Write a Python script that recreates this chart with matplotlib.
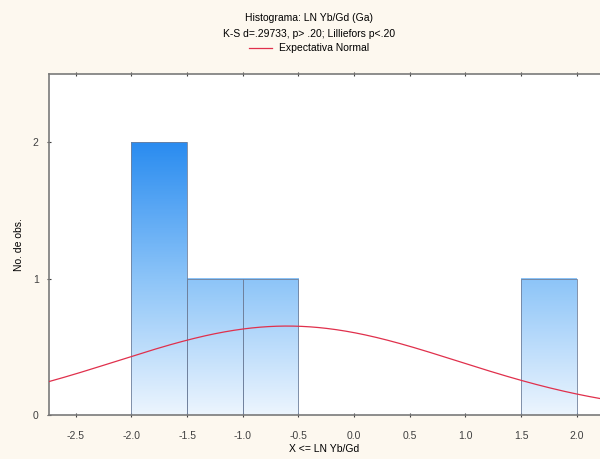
import numpy as np
import matplotlib
matplotlib.use("Agg")
import matplotlib.pyplot as plt
from matplotlib.colors import LinearSegmentedColormap

# histogram bins (left edges) and counts
bin_left = [-2.0, -1.5, -1.0, 1.5]
bin_count = [2, 1, 1, 1]
bin_width = 0.5

# expected normal curve: sample mean / sd as estimated from the curve
n_obs = 5
mean_x = -0.6
sd_x = 1.53

xticks = [-2.5, -2.0, -1.5, -1.0, -0.5, 0.0, 0.5, 1.0, 1.5, 2.0]
yticks = [0, 1, 2]

plt.rcParams['font.family'] = ['Liberation Sans', 'DejaVu Sans']

fig = plt.figure(figsize=(6.0, 4.59), dpi=100, facecolor='#fdf8ef')
ax = fig.add_axes([0.0817, 0.0959, 0.9183, 0.743])
ax.set_facecolor('white')

xmin, xmax = -2.74, 2.21

cmap = LinearSegmentedColormap.from_list('bars', ['#ecf5fe', '#8cc4f8', '#2a8cf0'])
for left, cnt in zip(bin_left, bin_count):
    grad = np.linspace(0, cnt, 200).reshape(-1, 1)
    ax.imshow(grad, cmap=cmap, vmin=0, vmax=2, origin='lower', aspect='auto',
              extent=[left, left + bin_width, 0, cnt], zorder=1)
ax.bar(bin_left, bin_count, width=bin_width, align='edge', facecolor='none',
       edgecolor='#6f809c', linewidth=0.6, zorder=2)

xs = np.linspace(xmin, xmax, 400)
ys = n_obs * bin_width * np.exp(-0.5 * ((xs - mean_x) / sd_x) ** 2) / (sd_x * np.sqrt(2 * np.pi))
line, = ax.plot(xs, ys, color='#e0304c', linewidth=0.9, zorder=3)
ax.set_xlim(xmin, xmax)
ax.set_ylim(0, 2.5)

ax.set_xticks(xticks)
ax.set_xticklabels([f"{v:.1f}" for v in xticks])
ax.set_yticks(yticks)
ax.tick_params(axis='both', labelsize=7.5, colors='#404040', length=3, width=0.8,
               direction='inout', top=True)
ax.tick_params(axis='x', pad=10)
ax.tick_params(axis='y', pad=6)
for s in ['left', 'bottom', 'top']:
    ax.spines[s].set_color('#7a7a7a')
    ax.spines[s].set_linewidth(1.2)
ax.spines['right'].set_visible(False)

ax.set_xlabel('X <= LN Yb/Gd', fontsize=7.5, labelpad=2)
ax.set_ylabel('No. de obs.', fontsize=7.5, labelpad=6)

fig.text(0.515, 0.960, 'Histograma: LN Yb/Gd (Ga)', ha='center', va='center', fontsize=7.5)
fig.text(0.515, 0.927, 'K-S d=.29733, p> .20; Lilliefors p<.20', ha='center', va='center', fontsize=7.5)
fig.legend([line], ['Expectativa Normal'], loc='center', bbox_to_anchor=(0.515, 0.895),
           frameon=False, fontsize=7.5, handlelength=2.2, handletextpad=0.6)

fig.savefig('out.png', dpi=100, facecolor=fig.get_facecolor())
